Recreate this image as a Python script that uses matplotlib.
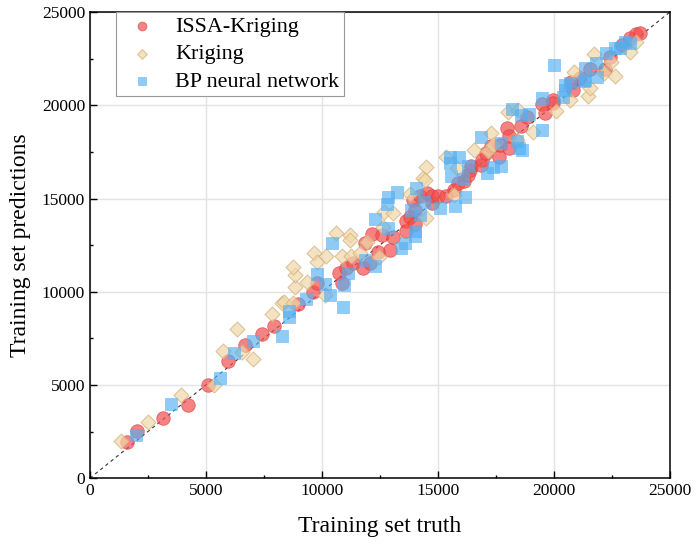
import numpy as np
import matplotlib.pyplot as plt
from matplotlib.ticker import MultipleLocator

plt.rcParams['font.family'] = ['Liberation Serif', 'DejaVu Serif']

# ISSA-Kriging
issa_x = [1620, 2050, 3150, 4240, 5070, 5960, 6680, 7400, 7950, 8965, 9625, 9770,
          10730, 10850, 11050, 11350, 11780, 11850, 12070, 12180, 12590, 13070, 12930,
          12400, 13620, 13620, 13790, 14010, 13950, 14010, 14250, 14550, 14760, 14740,
          15000, 15370, 15690, 15880, 16130, 16310, 16380, 16450, 16850, 16900, 17090,
          17310, 17630, 17670, 17960, 18060, 18060, 18600, 18850, 19510, 19610, 19970,
          19970, 20720, 20830, 21120, 21580, 22200, 22440, 22920, 23280, 23560, 23710]
issa_y = [1950, 2540, 3250, 3950, 4990, 6300, 7140, 7760, 8170, 9335, 9995, 10480,
          11015, 10480, 11250, 11520, 11250, 12590, 11560, 13090, 13035, 12930, 12230,
          12140, 13810, 13280, 14020, 13660, 14930, 14380, 15120, 15275, 15150, 14740,
          15150, 15130, 15450, 15810, 15950, 16255, 16520, 16740, 16790, 17060, 17460,
          17810, 17240, 17850, 18760, 18350, 17690, 18885, 19385, 20065, 19565, 20280,
          20100, 21265, 20815, 21445, 21925, 21925, 22600, 23230, 23590, 23820, 23890]

# Kriging
krig_x = [1340, 2490, 3920, 5360, 5750, 6350, 6550, 7030, 7830, 8290, 8380, 8750,
          8860, 8860, 8760, 9340, 9670, 9770, 10130, 10160, 10590, 10880, 11210, 11210,
          11250, 11640, 11950, 12470, 12650, 12690, 13080, 13790, 14370, 14510, 14510,
          14440, 15330, 15700, 15810, 16570, 17170, 17290, 17360, 18030, 18460, 18400,
          19110, 20100, 20690, 20880, 21480, 21550, 21720, 22150, 22450, 22630, 23300,
          23560]
krig_y = [2000, 2990, 4440, 4990, 6800, 7980, 6750, 6370, 8800, 9410, 9460, 9410,
          10270, 10890, 11350, 10530, 12060, 11610, 9820, 11930, 13150, 11910, 13030, 12750,
          11910, 12060, 12680, 11850, 13490, 14290, 14200, 15250, 16080, 16700, 13930,
          15990, 17210, 15200, 16620, 17600, 17560, 18490, 17870, 19650, 19760, 18150,
          18580, 19680, 20290, 21800, 20480, 20950, 22760, 21750, 22300, 21550, 22840,
          23420]

# BP neural network
bp_x = [1970, 3490, 5590, 6210, 7010, 8290, 8590, 8590, 9300, 9810, 10130, 10350,
        10450, 10960, 10930, 11130, 11850, 12280, 12280, 12790, 12860, 12830, 13220,
        13400, 13580, 13840, 14010, 14010, 14040, 14220, 14410, 15090, 15530, 15550,
        15520, 15730, 15910, 16090, 16190, 16310, 16880, 17100, 17390, 17740, 17720,
        18180, 18420, 18480, 18620, 18580, 18950, 19470, 19510, 20000, 20400, 20470,
        20470, 20690, 21290, 21340, 21340, 21810, 21870, 22270, 22630, 22850, 23060,
        23300]
bp_y = [2290, 4000, 5400, 6740, 7350, 7620, 8975, 8655, 9590, 10950, 10400, 9830,
        12590, 10360, 9155, 10980, 11700, 11400, 13880, 14700, 15090, 13430, 15360,
        12320, 12630, 14380, 13270, 13000, 15540, 14110, 14830, 14470, 17220, 16200,
        16880, 14590, 17210, 16030, 15090, 16740, 18310, 16350, 16700, 16760, 17960,
        19800, 18100, 17690, 17600, 19480, 19550, 20370, 18670, 22150, 20460, 20820,
        21090, 21180, 21320, 21980, 21350, 22250, 21530, 22790, 23050, 23050, 23410,
        23350]

fig = plt.figure(figsize=(6.97, 5.49), dpi=100)
ax = fig.add_axes([0.129, 0.129, 0.832, 0.849])

ax.plot([0, 25000], [0, 25000], color='#333333', lw=0.8, ls=(0, (3, 3)), zorder=1)

ax.scatter(issa_x, issa_y, s=95, marker='o', color='#f24f4f', alpha=0.7,
           edgecolors='#e03c3c', linewidths=0.6, label='ISSA-Kriging', zorder=3)
ax.scatter(krig_x, krig_y, s=58, marker='D', color='#f0d8a8', alpha=0.7,
           edgecolors='#d4b07a', linewidths=0.8, label='Kriging', zorder=4)
ax.scatter(bp_x, bp_y, s=65, marker='s', color='#52aff2', alpha=0.65,
           edgecolors='#52aff2', linewidths=0.5, label='BP neural network', zorder=5)

ax.set_xlim(0, 25000)
ax.set_ylim(0, 25000)
ax.xaxis.set_major_locator(MultipleLocator(5000))
ax.yaxis.set_major_locator(MultipleLocator(5000))
ax.xaxis.set_minor_locator(MultipleLocator(2500))
ax.yaxis.set_minor_locator(MultipleLocator(2500))
ax.tick_params(which='major', direction='in', length=5, width=1, labelsize=12.5)
ax.tick_params(which='minor', direction='in', length=2.5, width=1)
ax.grid(True, which='major', color='#e3e3e3', lw=1, zorder=0)
ax.set_axisbelow(True)
for sp in ax.spines.values():
    sp.set_linewidth(1.1)

ax.set_xlabel('Training set truth', fontsize=17, labelpad=12)
ax.set_ylabel('Training set predictions', fontsize=17, labelpad=8)

leg = ax.legend(loc='upper left', bbox_to_anchor=(0.045, 1.0), fontsize=15.8,
                frameon=True, fancybox=False, edgecolor='#999999', framealpha=1,
                borderaxespad=0, handletextpad=0.5, borderpad=0.2, labelspacing=0.33,
                markerscale=0.65)
leg.get_frame().set_linewidth(0.8)

plt.savefig('out.png', dpi=100)
